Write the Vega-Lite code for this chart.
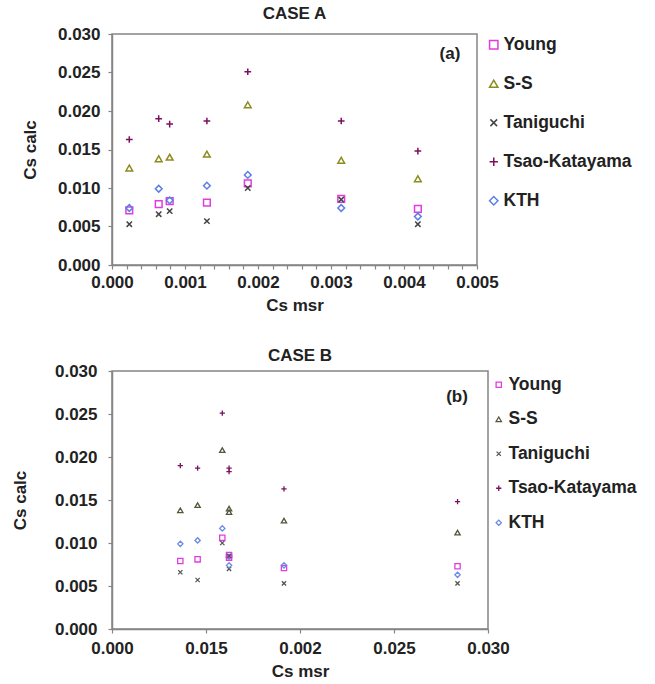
{
  "$schema": "https://vega.github.io/schema/vega-lite/v6.json",
  "padding": {"left": 10, "top": 4, "right": 0, "bottom": 0},
  "background": "white",
  "datasets": {
    "pts": [
      {"m": "Young", "xa": 0.000237, "xb": 0.01372, "y": 0.0071},
      {"m": "S-S", "xa": 0.000237, "xb": 0.01372, "y": 0.0126},
      {"m": "Taniguchi", "xa": 0.000237, "xb": 0.01372, "y": 0.0053},
      {"m": "Tsao-Katayama", "xa": 0.000237, "xb": 0.01372, "y": 0.0163},
      {"m": "KTH", "xa": 0.000237, "xb": 0.01372, "y": 0.0074},
      {"m": "Young", "xa": 0.00064, "xb": 0.00545, "y": 0.0079},
      {"m": "S-S", "xa": 0.00064, "xb": 0.00545, "y": 0.0138},
      {"m": "Taniguchi", "xa": 0.00064, "xb": 0.00545, "y": 0.0066},
      {"m": "Tsao-Katayama", "xa": 0.00064, "xb": 0.00545, "y": 0.0190},
      {"m": "KTH", "xa": 0.00064, "xb": 0.00545, "y": 0.0099},
      {"m": "Young", "xa": 0.00079, "xb": 0.00934, "y": 0.0083},
      {"m": "S-S", "xa": 0.00079, "xb": 0.00934, "y": 0.0140},
      {"m": "Taniguchi", "xa": 0.00079, "xb": 0.00934, "y": 0.0070},
      {"m": "Tsao-Katayama", "xa": 0.00079, "xb": 0.00934, "y": 0.0183},
      {"m": "KTH", "xa": 0.00079, "xb": 0.00934, "y": 0.0084},
      {"m": "Young", "xa": 0.0013, "xb": 0.00683, "y": 0.0081},
      {"m": "S-S", "xa": 0.0013, "xb": 0.00683, "y": 0.0144},
      {"m": "Taniguchi", "xa": 0.0013, "xb": 0.00683, "y": 0.0057},
      {"m": "Tsao-Katayama", "xa": 0.0013, "xb": 0.00683, "y": 0.0187},
      {"m": "KTH", "xa": 0.0013, "xb": 0.00683, "y": 0.0103},
      {"m": "Young", "xa": 0.00186, "xb": 0.0088, "y": 0.0106},
      {"m": "S-S", "xa": 0.00186, "xb": 0.0088, "y": 0.0208},
      {"m": "Taniguchi", "xa": 0.00186, "xb": 0.0088, "y": 0.0100},
      {"m": "Tsao-Katayama", "xa": 0.00186, "xb": 0.0088, "y": 0.0251},
      {"m": "KTH", "xa": 0.00186, "xb": 0.0088, "y": 0.0117},
      {"m": "Young", "xa": 0.00314, "xb": 0.00934, "y": 0.0086},
      {"m": "S-S", "xa": 0.00314, "xb": 0.00934, "y": 0.0136},
      {"m": "Taniguchi", "xa": 0.00314, "xb": 0.00934, "y": 0.0085},
      {"m": "Tsao-Katayama", "xa": 0.00314, "xb": 0.00934, "y": 0.0187},
      {"m": "KTH", "xa": 0.00314, "xb": 0.00934, "y": 0.0074},
      {"m": "Young", "xa": 0.00419, "xb": 0.02757, "y": 0.0073},
      {"m": "S-S", "xa": 0.00419, "xb": 0.02757, "y": 0.0112},
      {"m": "Taniguchi", "xa": 0.00419, "xb": 0.02757, "y": 0.0053},
      {"m": "Tsao-Katayama", "xa": 0.00419, "xb": 0.02757, "y": 0.0148},
      {"m": "KTH", "xa": 0.00419, "xb": 0.02757, "y": 0.0063}
    ]
  },
  "config": {
    "font": "Liberation Sans",
    "view": {"stroke": "#858585", "strokeWidth": 1.5},
    "axis": {
      "grid": false,
      "domainColor": "#858585",
      "domainWidth": 1.5,
      "tickColor": "#858585",
      "tickWidth": 1.2,
      "tickSize": 4,
      "labelFont": "Liberation Sans",
      "labelFontSize": 17,
      "labelFontWeight": "bold",
      "labelColor": "#222222",
      "titleFont": "Liberation Sans",
      "titleFontSize": 17,
      "titleFontWeight": "bold",
      "titleColor": "#222222",
      "labelFlush": false,
      "labelOverlap": false
    },
    "title": {"font": "Liberation Sans", "fontSize": 17, "fontWeight": "bold", "color": "#222222", "anchor": "middle"},
    "legend": {"labelFont": "Liberation Sans", "labelFontSize": 17.5, "labelFontWeight": "bold", "labelColor": "#222222"},
    "concat": {"spacing": 32}
  },
  "resolve": {"scale": {"color": "independent", "shape": "independent", "x": "independent", "y": "independent"}},
  "vconcat": [
    {
      "title": {"text": "CASE A", "offset": 2},
      "width": 365,
      "height": 231,
      "resolve": {"axis": {"x": "independent"}},
      "layer": [
        {
          "data": {"name": "pts"},
          "mark": {"type": "point", "filled": false, "strokeWidth": 1.5, "size": 45, "opacity": 1},
          "encoding": {
            "x": {
              "field": "xa", "type": "quantitative",
              "scale": {"domain": [0, 0.005], "nice": false, "zero": false},
              "axis": {
                "title": "Cs msr",
                "orient": "bottom",
                "values": [0, 0.001, 0.002, 0.003, 0.004, 0.005],
                "format": ".3f",
                "labelOverlap": false,
                "labelFlush": false,
                "labelPadding": 5,
                "titlePadding": 7
              }
            },
            "y": {
              "field": "y", "type": "quantitative",
              "scale": {"domain": [0, 0.03], "nice": false},
              "axis": {"title": "Cs calc", "values": [0, 0.005, 0.01, 0.015, 0.02, 0.025, 0.03], "tickCount": 7, "format": ".3f", "labelOverlap": false, "labelSeparation": -20, "labelBound": false, "labelPadding": 8, "titlePadding": 18}
            },
            "color": {
              "field": "m", "type": "nominal",
              "scale": {"domain": ["Young", "S-S", "Taniguchi", "Tsao-Katayama", "KTH"], "range": ["#E03CE0", "#8C8C1E", "#444444", "#7B1060", "#5B7FE6"]},
              "legend": {"title": null, "orient": "none", "legendX": 373, "legendY": 2, "rowPadding": 20, "symbolSize": 70, "symbolStrokeWidth": 1.5, "labelOffset": 1}
            },
            "shape": {
              "field": "m", "type": "nominal",
              "scale": {"domain": ["Young", "S-S", "Taniguchi", "Tsao-Katayama", "KTH"], "range": ["square", "triangle-up", "M-0.8,-0.8L0.8,0.8M-0.8,0.8L0.8,-0.8", "M-1,0L1,0M0,-1L0,1", "diamond"]}
            }
          }
        },
        {
          "data": {"values": [{}]},
          "mark": {"type": "text", "text": "(a)", "font": "Liberation Sans", "fontSize": 17, "fontWeight": "bold", "color": "#222222"},
          "encoding": {
            "x": {
              "datum": 0.00463, "type": "quantitative",
              "axis": {
                "orient": "bottom",
                "title": null,
                "labels": false,
                "domain": false,
                "tickColor": "#858585",
                "tickSize": 4,
                "values": [0.0002, 0.0004, 0.0006, 0.0008, 0.0012, 0.0014, 0.0016, 0.0018, 0.0022, 0.0024, 0.0026, 0.0028, 0.0032, 0.0034, 0.0036, 0.0038, 0.0042, 0.0044, 0.0046, 0.0048]
              }
            },
            "y": {
              "datum": 0.02737, "type": "quantitative",
              "axis": {"title": "Cs calc", "values": [0, 0.005, 0.01, 0.015, 0.02, 0.025, 0.03], "tickCount": 7, "format": ".3f", "labelOverlap": false, "labelSeparation": -20, "labelBound": false, "labelPadding": 8, "titlePadding": 18}
            }
          }
        }
      ]
    },
    {
      "title": {"text": "CASE B", "offset": -3},
      "width": 376,
      "height": 258,
      "layer": [
        {
          "data": {"name": "pts"},
          "mark": {"type": "point", "filled": false, "strokeWidth": 1.3, "size": 28, "opacity": 1},
          "encoding": {
            "x": {
              "field": "xb", "type": "quantitative",
              "scale": {"domain": [0, 0.03], "nice": false, "zero": false},
              "axis": {
                "title": "Cs msr",
                "values": [0, 0.0075, 0.015, 0.0225, 0.03],
                "labelExpr": "['0.000','0.015','0.002','0.025','0.030'][round(datum.value/0.0075)]",
                "labelOverlap": false,
                "labelFlush": false,
                "labelPadding": 7,
                "titlePadding": 7
              }
            },
            "y": {
              "field": "y", "type": "quantitative",
              "scale": {"domain": [0, 0.03], "nice": false},
              "axis": {"title": "Cs calc", "values": [0, 0.005, 0.01, 0.015, 0.02, 0.025, 0.03], "format": ".3f", "labelOverlap": false, "labelPadding": 11, "titlePadding": 25}
            },
            "color": {
              "field": "m", "type": "nominal",
              "scale": {"domain": ["Young", "S-S", "Taniguchi", "Tsao-Katayama", "KTH"], "range": ["#E03CE0", "#55553A", "#555555", "#7B1060", "#6B8BE6"]},
              "legend": {"title": null, "orient": "none", "legendX": 378, "legendY": 5, "rowPadding": 15.5, "symbolSize": 28, "symbolStrokeWidth": 1.3, "labelOffset": 1}
            },
            "shape": {
              "field": "m", "type": "nominal",
              "scale": {"domain": ["Young", "S-S", "Taniguchi", "Tsao-Katayama", "KTH"], "range": ["square", "triangle-up", "M-0.8,-0.8L0.8,0.8M-0.8,0.8L0.8,-0.8", "M-1,0L1,0M0,-1L0,1", "diamond"]}
            }
          }
        },
        {
          "data": {"values": [{}]},
          "mark": {"type": "text", "text": "(b)", "font": "Liberation Sans", "fontSize": 17, "fontWeight": "bold", "color": "#222222"},
          "encoding": {
            "x": {"datum": 0.02753, "type": "quantitative"},
            "y": {"datum": 0.02697, "type": "quantitative"}
          }
        }
      ]
    }
  ]
}
